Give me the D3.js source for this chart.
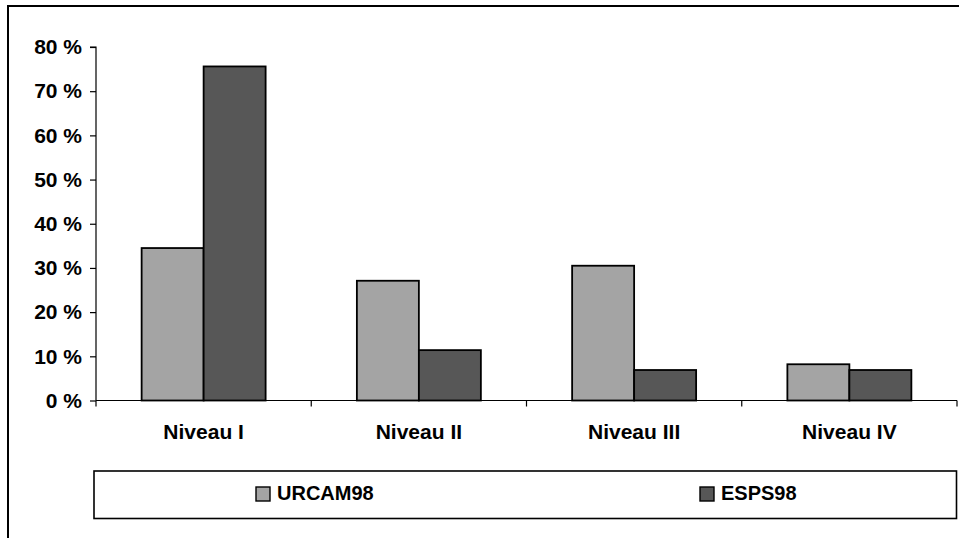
<!DOCTYPE html>
<html>
<head>
<meta charset="utf-8">
<script src="https://cdn.jsdelivr.net/npm/d3@7"></script>
<style>
  html, body { margin: 0; padding: 0; background: #fff; }
  svg { display: block; }
  text { font-family: "Liberation Sans", Arial, sans-serif; font-weight: bold; fill: #000; }
</style>
</head>
<body>
<svg id="chart" width="959" height="538"></svg>
<script>
// Niveaux and the share of each survey (percent)
const categories = ["Niveau I", "Niveau II", "Niveau III", "Niveau IV"];
const seriesNames = ["URCAM98", "ESPS98"];
const urcam98 = [34.5, 27.1, 30.5, 8.2];
const esps98 = [75.6, 11.4, 6.9, 6.9];
const yTicks = [0, 10, 20, 30, 40, 50, 60, 70, 80];

const seriesValues = [urcam98, esps98];
const colors = ["#a4a4a4", "#575757"];

const svg = d3.select("#chart");

// outer chart frame (top and left edges)
svg.append("path")
  .attr("d", "M8,539 L8,6 L960,6")
  .attr("fill", "none")
  .attr("stroke", "#000")
  .attr("stroke-width", 2);

const plot = { left: 96, right: 957, top: 47, bottom: 400.5 };

const x0 = d3.scaleBand().domain(categories).range([plot.left, plot.right]).paddingInner(0).paddingOuter(0);
const x1 = d3.scaleBand().domain(seriesNames).range([0, x0.bandwidth()]).paddingInner(0).paddingOuter(0.736);
const y = d3.scaleLinear().domain([0, 80]).range([plot.bottom, plot.top]);

// bars
const groups = svg.append("g").selectAll("g")
  .data(categories)
  .join("g")
  .attr("transform", d => `translate(${x0(d)},0)`);

groups.selectAll("rect")
  .data((d, i) => seriesNames.map((s, j) => ({ s, j, v: seriesValues[j][i] })))
  .join("rect")
  .attr("x", d => x1(d.s))
  .attr("y", d => y(d.v))
  .attr("width", x1.bandwidth())
  .attr("height", d => y(0) - y(d.v))
  .attr("fill", d => colors[d.j])
  .attr("stroke", "#000")
  .attr("stroke-width", 1.8);

// y axis
const yAxis = d3.axisLeft(y).tickValues(yTicks).tickSize(6).tickPadding(8)
  .tickFormat(d => d + " %");
const gy = svg.append("g").attr("transform", `translate(${plot.left},0)`).call(yAxis);
gy.select(".domain").attr("stroke", "#000").attr("stroke-width", 1.2).attr("d", `M-6,${y(80)}H0V${y(0)}`);
gy.selectAll(".tick line").attr("stroke", "#000").attr("stroke-width", 1.2);
gy.selectAll(".tick text")
  .style("font-size", "21px")
  .style("font-family", "'Liberation Sans', Arial, sans-serif")
  .style("font-weight", "bold")
  .attr("fill", "#000");

// x axis with ticks at the category boundaries
const gx = svg.append("g").attr("transform", `translate(0,${plot.bottom})`);
gx.append("line")
  .attr("x1", plot.left).attr("x2", plot.right)
  .attr("stroke", "#000").attr("stroke-width", 1.2);
const bounds = categories.map(c => x0(c)).concat([plot.right]);
gx.selectAll(".xt").data(bounds).join("line")
  .attr("class", "xt")
  .attr("x1", d => d).attr("x2", d => d)
  .attr("y1", 0).attr("y2", 6)
  .attr("stroke", "#000").attr("stroke-width", 1.2);
gx.selectAll(".xl").data(categories).join("text")
  .attr("class", "xl")
  .attr("x", d => x0(d) + x0.bandwidth() / 2)
  .attr("y", 38)
  .attr("text-anchor", "middle")
  .style("font-size", "21px")
  .text(d => d);

// legend
const legend = svg.append("g");
legend.append("rect")
  .attr("x", 94).attr("y", 471)
  .attr("width", 862.5).attr("height", 47.5)
  .attr("fill", "#fff")
  .attr("stroke", "#000").attr("stroke-width", 1.6);

const legendX = [256, 700];
const items = legend.selectAll(".li").data(seriesNames).join("g")
  .attr("class", "li")
  .attr("transform", (d, i) => `translate(${legendX[i]},487)`);
items.append("rect")
  .attr("width", 14).attr("height", 14)
  .attr("fill", (d, i) => colors[i])
  .attr("stroke", "#000").attr("stroke-width", 1.4);
items.append("text")
  .attr("x", 21).attr("y", 13)
  .style("font-size", "20px")
  .text(d => d);
</script>
</body>
</html>
